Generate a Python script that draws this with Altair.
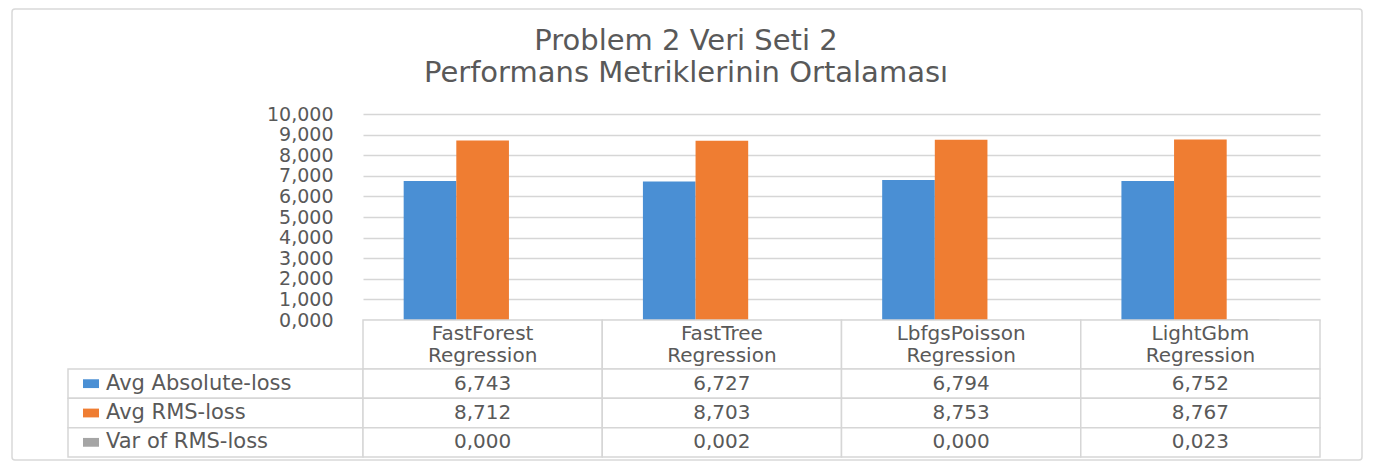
import altair as alt
import pandas as pd

# ---- data ----
categories = ["FastForest Regression", "FastTree Regression",
              "LbfgsPoisson Regression", "LightGbm Regression"]
series = ["Avg Absolute-loss", "Avg RMS-loss", "Var of RMS-loss"]
avg_abs = [6.743, 6.727, 6.794, 6.752]
avg_rms = [8.712, 8.703, 8.753, 8.767]
var_rms = [0.000, 0.002, 0.000, 0.023]
y_ticks = [0, 1, 2, 3, 4, 5, 6, 7, 8, 9, 10]
colors = ["#4a8fd4", "#ef7d32", "#a5a5a5"]
title_lines = ["Problem 2 Veri Seti 2", "Performans Metriklerinin Ortalaması"]

rows = []
for s, vals in zip(series, [avg_abs, avg_rms, var_rms]):
    for c, v in zip(categories, vals):
        rows.append({"category": c, "series": s, "value": v})
df = pd.DataFrame(rows)
cat_df = pd.DataFrame({"category": categories})
ser_df = pd.DataFrame({"series": series})
one_df = pd.DataFrame({"k": [0]})

FONT = "DejaVu Sans"
TEXT = "#595959"
LINE = "#d6d6d6"

PLOT_W, LEFT_W = 957, 295
BAR_H, HEAD_H, TAB_H = 206, 49, 88

color_scale = alt.Scale(domain=series, range=colors)
band0 = alt.Scale(paddingInner=0, paddingOuter=0)

# ---- bar chart ----
bars = alt.Chart(df).mark_bar().encode(
    x=alt.X("category:N", sort=categories,
            scale=alt.Scale(paddingInner=0.34, paddingOuter=0.17), axis=None),
    xOffset=alt.XOffset("series:N", sort=series,
                        scale=alt.Scale(paddingInner=0, paddingOuter=0)),
    y=alt.Y("value:Q", scale=alt.Scale(domain=[0, 10], nice=False),
            axis=alt.Axis(values=y_ticks, format=".3f", title=None, grid=True,
                          gridColor=LINE, gridWidth=1.5, domain=False, ticks=False,
                          labelFontSize=19, labelColor=TEXT, labelPadding=30,
                          labelFont=FONT)),
    color=alt.Color("series:N", scale=color_scale, legend=None),
)

title_mark = alt.Chart(one_df).mark_text(
    fontSize=29, font=FONT, color=TEXT, lineHeight=32,
    baseline="middle", align="center",
).encode(x=alt.value(323), y=alt.value(-73), text=alt.value(title_lines))

frame = alt.Chart(one_df).mark_rect(
    fill="transparent", stroke="#d9d9d9", strokeWidth=1.5, cornerRadius=3
).encode(x=alt.value(-351), x2=alt.value(999), y=alt.value(-105), y2=alt.value(346))

top_right = alt.layer(frame, bars, title_mark).properties(width=PLOT_W, height=BAR_H)

spacer_top = alt.Chart(one_df).mark_text().encode(text=alt.value("")).properties(
    width=LEFT_W, height=BAR_H)
spacer_mid = alt.Chart(one_df).mark_text().encode(text=alt.value("")).properties(
    width=LEFT_W, height=HEAD_H)

# ---- header row (category names) ----
xcat = alt.X("category:N", sort=categories, scale=band0, axis=None)
head_cells = alt.Chart(cat_df).mark_rect(fill="white", stroke=LINE, strokeWidth=1.5).encode(x=xcat)
head_text = alt.Chart(cat_df).mark_text(
    fontSize=20, font=FONT, color=TEXT, lineBreak=" ", lineHeight=22,
    baseline="middle", dy=-11,
).encode(x=xcat, text="category:N")
header = alt.layer(head_cells, head_text).properties(width=PLOT_W, height=HEAD_H)

# ---- legend column ----
yser = alt.Y("series:N", sort=series, scale=band0, axis=None)
leg_cells = alt.Chart(ser_df).mark_rect(fill="white", stroke=LINE, strokeWidth=1.5).encode(y=yser)
leg_keys = alt.Chart(ser_df).mark_point(
    shape="M-1,-0.55H1V0.55H-1Z", filled=True, size=256, opacity=1
).encode(x=alt.value(23), y=yser,
         color=alt.Color("series:N", scale=color_scale, legend=None))
leg_text = alt.Chart(ser_df).mark_text(
    align="left", baseline="middle", fontSize=21, font=FONT, color=TEXT
).encode(x=alt.value(38), y=yser, text="series:N")
legend_col = alt.layer(leg_cells, leg_keys, leg_text).properties(width=LEFT_W, height=TAB_H)

# ---- value table ----
tab_cells = alt.Chart(df).mark_rect(fill="white", stroke=LINE, strokeWidth=1.5).encode(
    x=xcat, y=yser)
tab_text = alt.Chart(df).mark_text(
    fontSize=20, font=FONT, color=TEXT, baseline="middle"
).encode(x=xcat, y=yser, text=alt.Text("value:Q", format=".3f"))
table = alt.layer(tab_cells, tab_text).properties(width=PLOT_W, height=TAB_H)

chart = alt.concat(
    spacer_top, top_right, spacer_mid, header, legend_col, table,
    columns=2, spacing=0, bounds="flush",
).properties(
    padding={"left": 3, "top": 0, "right": 1, "bottom": 1},
    background="white",
).configure(
    font=FONT,
    locale={"number": {"decimal": ",", "thousands": ".", "grouping": [3],
                       "currency": ["", ""]}},
).configure_view(stroke=None)

chart.save("out.html", embed_options={"renderer": "svg", "actions": False})
